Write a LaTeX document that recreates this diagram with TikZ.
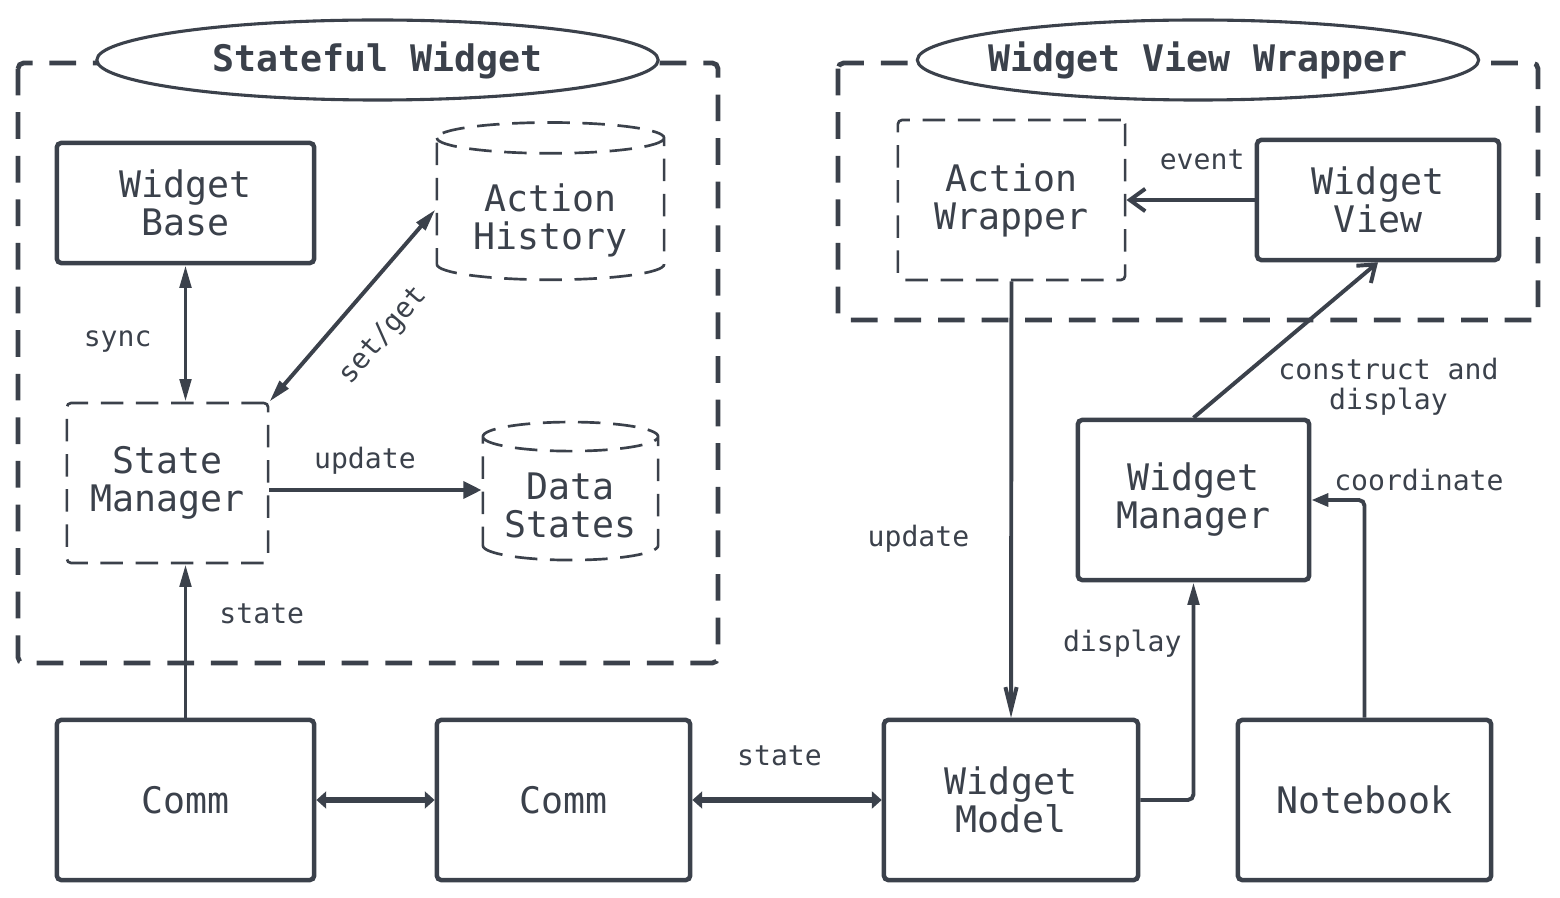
\documentclass[tikz,border=0pt]{standalone}
\usepackage{fontspec}
\setmainfont{DejaVu Sans Mono}
\usetikzlibrary{arrows.meta,positioning,shapes.geometric}
\definecolor{ink}{RGB}{59,65,75}
\newcommand{\tankpad}[1]{\rule{0pt}{#1}}

\begin{document}
\begin{tikzpicture}[x=0.025cm, y=-0.025cm, color=ink, text=ink,
  box/.style={draw, line width=3.2pt, rounded corners=3pt, align=center, inner sep=0pt, font=\fontsize{26}{27}\selectfont},
  dbox/.style={box, line width=1.9pt, dash pattern=on 16pt off 9pt},
  tank/.style={draw, cylinder, shape border rotate=90, line width=1.9pt, dash pattern=on 16pt off 9pt, align=center, inner sep=0pt, font=\fontsize{26}{27}\selectfont},
  group/.style={draw, line width=3.4pt, dash pattern=on 19pt off 12pt, rounded corners=4pt},
  title/.style={draw, ellipse, fill=white, line width=2.2pt, inner ysep=0pt, inner xsep=-0.6cm, minimum width=14.03cm, minimum height=2cm, font=\fontsize{26}{27}\selectfont\bfseries},
  lbl/.style={inner sep=0pt, font=\fontsize{20}{21}\selectfont},
  link/.style={line width=2.8pt, -{Triangle[length=16pt,width=8pt]}},
  twoway/.style={line width=2.8pt, {Triangle[length=16pt,width=8pt]}-{Triangle[length=16pt,width=8pt]}},
  biarrow/.style={line width=4.4pt, {Triangle[length=7pt,width=12pt]}-{Triangle[length=7pt,width=12pt]}},
  barb/.style={line width=2.8pt, -{Straight Barb[length=11pt,width=16pt]}}
]
  \useasboundingbox (0,0) rectangle (1560,898);

  % Groups
  \draw[group] (18,63) rectangle (718,663);
  \draw[group] (838,63) rectangle (1538,320);
  \node[title] (tstate) at (377.5,60) {Stateful Widget};
  \node[title] (twrap) at (1198,60) {Widget View Wrapper};

  % Stateful widget
  \node[box, minimum width=6.43cm, minimum height=3cm] (base) at (185.5,203) {Widget\\Base};
  \node[tank, minimum width=5.68cm, minimum height=3.93cm, aspect=0.2] (hist) at (550.5,209.5) {\tankpad{1.25cm}Action\\History};
  \node[dbox, minimum width=5.03cm, minimum height=4cm] (smgr) at (167.5,483) {State\\Manager};
  \node[tank, minimum width=4.38cm, minimum height=3.45cm, aspect=0.22] (data) at (570.5,499) {\tankpad{1cm}Data\\States};
  \coordinate (updsrc) at ([yshift=-0.175cm]smgr.east);

  % Wrapper
  \node[dbox, minimum width=5.68cm, minimum height=4cm] (awrap) at (1011.5,200) {Action\\Wrapper};
  \node[box, minimum width=6.05cm, minimum height=3cm] (wview) at (1378,200) {Widget\\View};
  \node[box, minimum width=5.78cm, minimum height=4cm] (wmgr) at (1193.5,500) {Widget\\Manager};

  % Bottom row
  \node[box, minimum width=6.43cm, minimum height=4cm] (comma) at (185.5,800) {Comm};
  \node[box, minimum width=6.33cm, minimum height=4cm] (commb) at (563.5,800) {Comm};
  \node[box, minimum width=6.35cm, minimum height=4cm] (wmodel) at (1011,800) {Widget\\Model};
  \node[box, minimum width=6.33cm, minimum height=4cm] (nbook) at (1364.5,800) {Notebook};

  % Arrows
  \draw[twoway] (base.south) -- (base.south |- smgr.north) node[lbl, pos=0.56, left=0.8cm] (lsync) {sync};
  \draw[twoway] (smgr.north east) -- (hist.west) node[lbl, pos=0.49, sloped, below=0.7cm] (lset) {set/get};
  \draw[line width=2.8pt, -{Triangle[length=13pt,width=12pt]}] (updsrc) -- (updsrc -| data.west) node[lbl, pos=0.45, above=0.35cm] (lupd) {update};
  \draw[link] (comma.north) -- (comma.north |- smgr.south) node[lbl, pos=0.68, right=0.8cm] (lstate) {state};
  \draw[biarrow] (comma.east) -- (commb.west);
  \draw[biarrow] (commb.east) -- (wmodel.west) node[lbl, pos=0.46, above=0.78cm] (lstate2) {state};
  \draw[barb] (wview.west) -- (awrap.east) node[lbl, pos=0.41, above=0.7cm] (levent) {event};
  \draw[line width=2.8pt, -{Straight Barb[length=16pt,width=8pt]}] (awrap.south) -- (wmodel.north) node[lbl, pos=0.59, left=1cm] (lupd2) {update};
  \draw[link, rounded corners=4pt] (wmodel.east) -| (wmgr.south) node[lbl, pos=0.86, left=0.25cm] (ldisp) {display};
  \draw[barb] (wmgr.north) -- (wview.south) node[lbl, pos=0.2, right=1.15cm, align=center] (lcons) {construct and\\display};
  \draw[line width=2.8pt, -{Triangle[length=12pt,width=9pt]}, rounded corners=4pt] (nbook.north) |- (wmgr.east) node[lbl, pos=0.5, above=0.18cm, xshift=1.36cm] (lcoord) {coordinate};
\end{tikzpicture}
\end{document}
